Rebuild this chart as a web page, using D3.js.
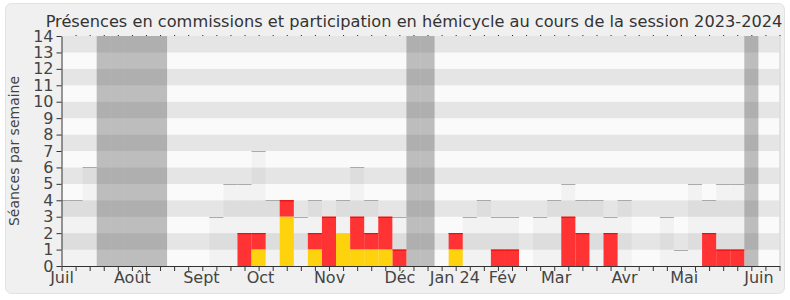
<!DOCTYPE html>
<html>
<head>
<meta charset="utf-8">
<script src="https://cdn.jsdelivr.net/npm/d3@7"></script>
<style>
  html, body { margin: 0; padding: 0; background: #ffffff; }
  svg { display: block; font-family: "DejaVu Sans", Verdana, sans-serif; }
</style>
</head>
<body>
<svg id="chart" width="790" height="300"></svg>
<script>
// ---- Data (one value per week, week 0 = first week of July 2023) ----
const weeks = d3.range(52);
// number of sittings in the week (light grey bars)
const seances = [4,4,6,0,0,0,0,0,0,0,0,3,5,5,7,4,4,3,4,3,4,6,4,3,3,0,0,0,2,3,4,3,3,0,3,4,5,4,4,3,4,0,0,3,1,5,4,5,5,0,0,0];
// participation in hémicycle (yellow)
const hemicycle = [0,0,0,0,0,0,0,0,0,0,0,0,0,0,1,0,3,0,1,0,2,1,1,1,0,0,0,0,1,0,0,0,0,0,0,0,0,0,0,0,0,0,0,0,0,0,0,0,0,0,0,0];
// presences in commission (red, stacked on yellow)
const commission = [0,0,0,0,0,0,0,0,0,0,0,0,0,2,1,0,1,0,1,3,0,2,1,2,1,0,0,0,1,0,0,1,1,0,0,0,3,2,0,2,0,0,0,0,0,0,2,1,1,0,0,0];
// parliamentary holidays (weeks)
const vacances = [3,4,5,6,7,25,26,49];
// month labels and their position (in weeks)
const monthNames = ["Juil","Août","Sept","Oct","Nov","Déc","Jan 24","Fév","Mar","Avr","Mai","Juin"];
const monthPos   = [0, 5, 9.9, 14.1, 19, 24, 27.9, 31.3, 35.1, 39.95, 44.2, 49.5];
const yTicks = d3.range(0, 15);

const chartTitle = "Présences en commissions et participation en hémicycle au cours de la session 2023-2024";
const yTitle = "Séances par semaine";

// ---- Drawing ----
const svg = d3.select("#chart");
const pLeft = 61.5, pRight = 779.5, pTop = 36, pBottom = 266;
const x = d3.scaleLinear().domain([0, 51]).range([pLeft, pRight]);
const y = d3.scaleLinear().domain([0, 14]).range([pBottom, pTop]);

// panel
svg.append("rect").attr("x", 5.5).attr("y", 3.5).attr("width", 779).attr("height", 290)
  .attr("rx", 6).attr("fill", "#f0f0f0").attr("stroke", "#e2e2e2");

svg.append("defs").append("clipPath").attr("id", "plot")
  .append("rect").attr("x", pLeft).attr("y", pTop).attr("width", pRight - pLeft).attr("height", pBottom - pTop);

const g = svg.append("g").attr("clip-path", "url(#plot)");

// horizontal bands
g.selectAll("rect.band").data(d3.range(14)).join("rect")
  .attr("class", "band")
  .attr("x", pLeft).attr("width", pRight - pLeft)
  .attr("y", d => y(d + 1)).attr("height", d => y(d) - y(d + 1))
  .attr("fill", d => d % 2 === 0 ? "#fafafa" : "#e5e5e5");

// sittings bars
const sData = weeks.filter(k => seances[k] > 0);
g.selectAll("rect.seance").data(sData).join("rect")
  .attr("class", "seance")
  .attr("x", k => x(k - 0.5)).attr("width", k => x(k + 0.5) - x(k - 0.5))
  .attr("y", k => y(seances[k])).attr("height", k => y(0) - y(seances[k]))
  .attr("fill", "#000").attr("fill-opacity", 0.03);
g.selectAll("line.seance").data(sData).join("line")
  .attr("class", "seance")
  .attr("x1", k => x(k - 0.5)).attr("x2", k => x(k + 0.5))
  .attr("y1", k => Math.round(y(seances[k])) + 0.5).attr("y2", k => Math.round(y(seances[k])) + 0.5)
  .attr("stroke", "#aaaaaa").attr("stroke-width", 1.2);

// holidays
g.selectAll("rect.vac").data(vacances).join("rect")
  .attr("class", "vac")
  .attr("x", k => x(k - 0.5)).attr("width", k => x(k + 0.5) - x(k - 0.5))
  .attr("y", y(14)).attr("height", y(0) - y(14))
  .attr("fill", "#434343").attr("fill-opacity", 0.33);

// commission (red) stacked above hemicycle
const cData = weeks.filter(k => commission[k] > 0);
g.selectAll("rect.com").data(cData).join("rect")
  .attr("class", "com")
  .attr("x", k => x(k - 0.5)).attr("width", k => x(k + 0.5) - x(k - 0.5))
  .attr("y", k => y(hemicycle[k] + commission[k])).attr("height", k => y(hemicycle[k]) - y(hemicycle[k] + commission[k]))
  .attr("fill", "#ff3333");
g.selectAll("line.com").data(cData).join("line")
  .attr("class", "com")
  .attr("x1", k => x(k - 0.5)).attr("x2", k => x(k + 0.5))
  .attr("y1", k => y(hemicycle[k] + commission[k]) + 0.5).attr("y2", k => y(hemicycle[k] + commission[k]) + 0.5)
  .attr("stroke", "#f00000").attr("stroke-width", 1);

// hemicycle (yellow)
const hData = weeks.filter(k => hemicycle[k] > 0);
g.selectAll("rect.hem").data(hData).join("rect")
  .attr("class", "hem")
  .attr("x", k => x(k - 0.5)).attr("width", k => x(k + 0.5) - x(k - 0.5))
  .attr("y", k => y(hemicycle[k])).attr("height", k => y(0) - y(hemicycle[k]))
  .attr("fill", "#fed20c");

// right border of plot
svg.append("line").attr("x1", pRight + 0.5).attr("x2", pRight + 0.5).attr("y1", pTop).attr("y2", pBottom)
  .attr("stroke", "#d0d0d0");

// axes
const axisColor = "#333";
const xAxis = svg.append("g").attr("transform", `translate(0,${pBottom})`)
  .call(d3.axisBottom(x).tickValues(weeks).tickFormat("").tickSize(5).tickSizeOuter(0));
xAxis.selectAll("path,line").attr("stroke", axisColor);

const xLabels = svg.append("g").attr("transform", `translate(0,${pBottom})`)
  .call(d3.axisBottom(x).tickValues(monthPos).tickFormat((d, i) => monthNames[i]).tickSize(0).tickPadding(6));
xLabels.select(".domain").remove();
xLabels.selectAll("text").attr("font-size", 16).attr("fill", "#444").attr("font-family", "DejaVu Sans");

const topAxis = svg.append("g").attr("transform", `translate(0,${pTop})`)
  .call(d3.axisTop(x).tickValues(weeks.slice(1)).tickFormat("").tickSize(1));
topAxis.select(".domain").remove();
topAxis.selectAll("line").attr("stroke", "#222");

const yAxis = svg.append("g").attr("transform", `translate(${pLeft},0)`)
  .call(d3.axisLeft(y).tickValues(yTicks).tickFormat(d3.format("d")).tickSize(5).tickSizeOuter(0).tickPadding(3));
yAxis.selectAll("path,line").attr("stroke", axisColor);
yAxis.selectAll("text").attr("font-size", 16).attr("fill", "#444").attr("font-family", "DejaVu Sans");

// titles
svg.append("text").attr("x", 414).attr("y", 26.5).attr("text-anchor", "middle")
  .attr("font-size", 16.2).attr("fill", "#333").text(chartTitle);
svg.append("text").attr("transform", `translate(19,${(pTop + pBottom) / 2}) rotate(-90)`)
  .attr("text-anchor", "middle").attr("font-size", 14).attr("fill", "#444").text(yTitle);
</script>
</body>
</html>
